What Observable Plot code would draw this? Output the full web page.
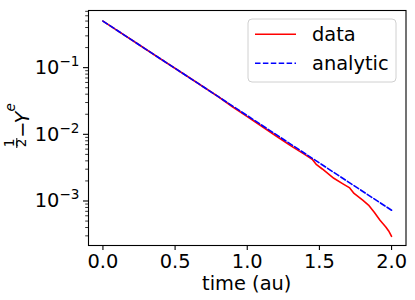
<!DOCTYPE html>
<html><head><meta charset="utf-8">
<script src="https://cdn.jsdelivr.net/npm/d3@7"></script>
<script src="https://cdn.jsdelivr.net/npm/@observablehq/plot@0.6"></script>
<style>
html,body{margin:0;padding:0;background:#fff;}
#chart svg{font-family:"DejaVu Sans";}
</style></head><body><div id="chart"></div>
<script>
const dataTime  = [0, 0.2, 0.4, 0.6, 0.8, 0.9, 1.0, 1.1, 1.2, 1.3, 1.4, 1.45, 1.48, 1.52, 1.6, 1.66, 1.71, 1.74, 1.8, 1.84, 1.88, 1.92, 1.96, 1.98, 2.0];
const dataValue = [0.5, 0.26, 0.135, 0.0705, 0.0366, 0.0257, 0.0184, 0.0132, 0.00944, 0.00676, 0.00495, 0.00422, 0.00351, 0.00302, 0.00219, 0.00182, 0.00157, 0.0013, 0.00103, 0.00087, 0.000676, 0.000513, 0.000407, 0.000355, 0.000295];
// analytic series
const analyticTime  = [0, 0.5, 1.0, 1.5, 2.0];
const analyticValue = [0.5, 0.0976, 0.0191, 0.00372, 0.000726];
// ticks and labels
const xTicks = [0, 0.5, 1.0, 1.5, 2.0];
const yMajorTicks = [1e-3, 1e-2, 1e-1];
const yMajorExponents = ["−3", "−2", "−1"];
const legendLabels = ["data", "analytic"];
const xLabel = "time (au)";

const yMinorTicks = [];
for (let k = -4; k <= -1; k++) for (let m = 2; m <= 9; m++) {
  const v = m * Math.pow(10, k);
  if (v > 2.15e-4 && v < 0.72) yMinorTicks.push(v);
}

const dataRows = dataTime.map((t, i) => ({t, v: dataValue[i]}));
const analyticRows = analyticTime.map((t, i) => ({t, v: analyticValue[i]}));

const W = 415, H = 300, mL = 88, mR = 9.5, mT = 10, mB = 55;
const fs = 19.4, fsSmall = 13.6;
const dash = "5.5,2.4";
const lw = 1.6;

const svg = Plot.plot({
  width: W, height: H,
  marginLeft: mL, marginRight: mR, marginTop: mT, marginBottom: mB,
  style: {fontFamily: "DejaVu Sans", fontSize: fs + "px", background: "white", color: "black"},
  x: {domain: [-0.1, 2.1]},
  y: {type: "log", domain: [2.15e-4, 0.72]},
  marks: [
    Plot.line(dataRows, {x: "t", y: "v", stroke: "red", strokeWidth: lw}),
    Plot.line(analyticRows, {x: "t", y: "v", stroke: "blue", strokeWidth: lw, strokeDasharray: dash}),
    Plot.axisX({ticks: xTicks, tickFormat: d => d.toFixed(1), tickSize: 5, tickPadding: 3.5, label: null, stroke: "black", strokeWidth: 1.1, fontSize: fs}),
    Plot.axisY({ticks: yMinorTicks, tickFormat: () => "", tickSize: 2.8, label: null, stroke: "black", strokeWidth: 0.8}),
    Plot.axisY({ticks: yMajorTicks, tickFormat: d => "10^" + yMajorExponents[yMajorTicks.indexOf(d)], tickSize: 5, tickPadding: 4, label: null, stroke: "black", strokeWidth: 1.1, fontSize: fs}),
    Plot.frame({stroke: "black", strokeWidth: 1.1})
  ]
});

const s = d3.select(svg);
// superscript exponents on log tick labels
s.selectAll('g[aria-label="y-axis tick label"] text').each(function() {
  const t = d3.select(this);
  const txt = t.text();
  if (txt.includes("^")) {
    const [base, exp] = txt.split("^");
    t.text(null);
    t.append("tspan").text(base);
    t.append("tspan").attr("dy", "-8").attr("font-size", fsSmall + "px").text(exp);
  }
});

// x axis label
s.append("text").attr("x", mL + (W - mL - mR) / 2).attr("y", 290)
  .attr("text-anchor", "middle").attr("font-size", fs + "px").attr("fill", "black").text(xLabel);

// y axis label: 1/2 − Y^e (as drawn in the reference)
const yl = s.append("g").attr("transform", "translate(0,128) rotate(-90)").attr("fill", "black");
yl.append("text").attr("x", -15).attr("y", 13.5).attr("text-anchor", "middle").attr("font-size", fsSmall + "px").text("1");
yl.append("line").attr("x1", -20).attr("x2", -10).attr("y1", 16.8).attr("y2", 16.8).attr("stroke", "black").attr("stroke-width", 1);
yl.append("text").attr("x", -15).attr("y", 26).attr("text-anchor", "middle").attr("font-size", fsSmall + "px").text("2");
yl.append("text").attr("x", -1.5).attr("y", 29).attr("text-anchor", "middle").attr("font-size", fs + "px").text("−");
yl.append("text").attr("x", 4.5).attr("y", 29).attr("text-anchor", "start").attr("font-size", fs + "px").attr("font-style", "italic").text("Y");
yl.append("text").attr("x", 16.5).attr("y", 15).attr("text-anchor", "start").attr("font-size", fsSmall + "px").attr("font-style", "italic").text("e");

// legend
const lg = s.append("g");
lg.append("rect").attr("x", 248).attr("y", 19).attr("width", 148).attr("height", 63).attr("rx", 4)
  .attr("fill", "white").attr("fill-opacity", 0.8).attr("stroke", "#d0d0d0").attr("stroke-width", 1);
const legendStyles = [{stroke: "red", dash: null, y: 34.3}, {stroke: "blue", dash: dash, y: 63.3}];
legendLabels.forEach((lab, i) => {
  const st = legendStyles[i];
  lg.append("line").attr("x1", 255).attr("x2", 296).attr("y1", st.y).attr("y2", st.y)
    .attr("stroke", st.stroke).attr("stroke-width", lw).attr("stroke-dasharray", st.dash);
  lg.append("text").attr("x", 312).attr("y", st.y).attr("dy", "0.35em").attr("text-anchor", "start")
    .attr("font-size", fs + "px").attr("fill", "black").text(lab);
});

document.getElementById("chart").appendChild(svg);
</script>
</body></html>
